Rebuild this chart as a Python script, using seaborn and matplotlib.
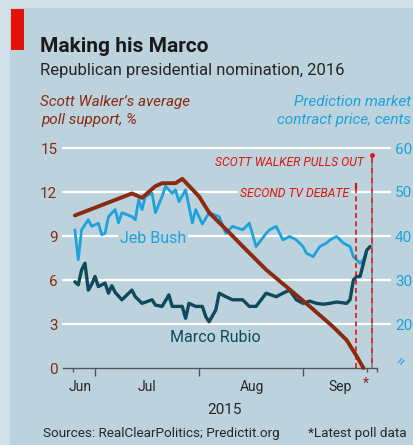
import pandas as pd
import matplotlib.pyplot as plt
import matplotlib.dates as mdates
from matplotlib.patches import Rectangle
import seaborn as sns

W, H = 413, 445

# Scott Walker, average poll support (%)
walker_dates = ["2015-06-25", "2015-07-12", "2015-07-15", "2015-07-19", "2015-07-21",
                "2015-07-25", "2015-07-27", "2015-08-01", "2015-08-04", "2015-08-11",
                "2015-08-14", "2015-08-21", "2015-08-27", "2015-09-03", "2015-09-10",
                "2015-09-14", "2015-09-17", "2015-09-19"]
walker_poll = [10.4, 11.9, 11.6, 12.4, 12.6, 12.6, 12.9, 11.7, 10.6, 9.0,
               8.3, 6.7, 5.55, 4.2, 2.8, 1.9, 0.8, 0.0]

# Prediction market contract price (cents)
bush_dates = ["2015-06-25", "2015-06-26", "2015-06-27", "2015-06-29", "2015-06-30",
              "2015-07-02", "2015-07-03", "2015-07-04", "2015-07-05", "2015-07-07",
              "2015-07-08", "2015-07-09", "2015-07-12", "2015-07-13", "2015-07-14",
              "2015-07-15", "2015-07-16", "2015-07-18", "2015-07-19", "2015-07-21",
              "2015-07-22", "2015-07-24", "2015-07-25", "2015-07-26", "2015-07-28",
              "2015-07-30", "2015-07-31", "2015-08-02", "2015-08-04", "2015-08-07",
              "2015-08-09", "2015-08-11", "2015-08-14", "2015-08-16", "2015-08-18",
              "2015-08-21", "2015-08-22", "2015-08-24", "2015-08-26", "2015-08-28",
              "2015-08-30", "2015-09-01", "2015-09-02", "2015-09-04", "2015-09-06",
              "2015-09-08", "2015-09-09", "2015-09-11", "2015-09-13", "2015-09-15",
              "2015-09-16", "2015-09-18", "2015-09-19", "2015-09-20", "2015-09-21"]
bush_price = [41.4, 34.6, 41.4, 43.7, 42.2, 42.9, 40.3, 40.6, 44.4, 46.0,
              43.0, 45.3, 44.4, 43.7, 48.2, 46.0, 49.0, 49.7, 45.3, 49.0,
              51.3, 49.7, 50.5, 47.8, 50.5, 43.0, 46.0, 42.7, 45.3, 44.4,
              40.6, 42.2, 41.4, 42.9, 37.6, 40.6, 41.4, 42.2, 39.1, 39.9,
              39.1, 37.6, 36.1, 35.3, 37.6, 38.4, 39.1, 39.9, 38.4, 37.6,
              35.3, 33.8, 34.6, 36.8, 37.6]

rubio_dates = ["2015-06-25", "2015-06-26", "2015-06-27", "2015-06-28", "2015-06-29",
               "2015-06-30", "2015-07-01", "2015-07-02", "2015-07-04", "2015-07-05",
               "2015-07-06", "2015-07-07", "2015-07-09", "2015-07-12", "2015-07-13",
               "2015-07-15", "2015-07-18", "2015-07-19", "2015-07-21", "2015-07-23",
               "2015-07-24", "2015-07-27", "2015-07-28", "2015-07-29", "2015-07-31",
               "2015-08-02", "2015-08-03", "2015-08-04", "2015-08-06", "2015-08-07",
               "2015-08-09", "2015-08-11", "2015-08-14", "2015-08-16", "2015-08-18",
               "2015-08-21", "2015-08-24", "2015-08-26", "2015-08-28", "2015-08-30",
               "2015-09-01", "2015-09-03", "2015-09-05", "2015-09-07", "2015-09-09",
               "2015-09-11", "2015-09-14", "2015-09-15", "2015-09-16", "2015-09-17",
               "2015-09-18", "2015-09-19", "2015-09-20", "2015-09-21"]
rubio_price = [29.6, 28.9, 32.3, 33.8, 27.7, 29.0, 30.8, 28.5, 29.3, 27.0,
               28.7, 27.2, 25.5, 27.7, 26.2, 24.7, 25.5, 24.3, 24.0, 26.6,
               24.0, 24.0, 21.3, 24.7, 24.0, 24.0, 21.7, 20.5, 23.2, 27.0,
               26.2, 25.5, 25.5, 24.0, 24.0, 27.0, 26.2, 27.0, 27.7, 25.5,
               24.7, 25.2, 24.7, 24.5, 24.7, 25.0, 24.7, 25.5, 30.0, 30.8,
               30.8, 33.8, 36.8, 37.6]

left_ticks = [0, 3, 6, 9, 12, 15]
right_ticks = [20, 30, 40, 50, 60]
month_names = ["Jun", "Jul", "Aug", "Sep"]
month_label_dates = ["2015-06-26 12:00", "2015-07-16 12:00", "2015-08-16 20:00", "2015-09-12 00:00"]
month_starts = ["2015-07-01", "2015-08-01", "2015-09-01"]
small_ticks = ["2015-06-24 12:00", "2015-09-20 00:00", "2015-09-23 00:00"]
debate_date = "2015-09-16 16:00"
pullout_date = "2015-09-21 16:00"
latest_poll_date = "2015-09-19 16:00"

BG = "#bcd2dd"
FRAME = "#d2e1e8"
WALKER = "#8a2a10"
BUSH = "#1ea2dc"
RUBIO = "#0e4a5b"
RED = "#e3120b"
INK = "#262626"


def fx(x):
    return x / W


def fy(y):
    return 1 - y / H


def dnum(d):
    return mdates.date2num(pd.Timestamp(d))


sns.set_theme(style="white")
plt.rcParams["font.family"] = ["Roboto", "DejaVu Sans"]

walker = pd.DataFrame({"date": pd.to_datetime(walker_dates), "poll": walker_poll})
bush = pd.DataFrame({"date": pd.to_datetime(bush_dates), "price": bush_price})
rubio = pd.DataFrame({"date": pd.to_datetime(rubio_dates), "price": rubio_price})

fig = plt.figure(figsize=(W / 100, H / 100), dpi=100)
fig.patch.set_facecolor(FRAME)
fig.add_artist(Rectangle((fx(10), 0), 1, fy(8), transform=fig.transFigure,
                         color=BG, zorder=-10))
fig.add_artist(Rectangle((fx(11), fy(50)), fx(13), 41 / H, transform=fig.transFigure,
                         color=RED, lw=0))

# market prices on the primary axes (right scale), Walker on the twin (left scale, on top)
ax = fig.add_axes([fx(63), fy(368), 314 / W, 220 / H])
ax.set_facecolor("none")
ax2 = ax.twinx()
ax.yaxis.tick_right()
ax2.yaxis.tick_left()

for v in right_ticks:
    ax.axhline(v, xmin=0, xmax=(390 - 63) / 314, color="white", lw=1.6,
               clip_on=False, zorder=0)

sns.lineplot(data=bush, x="date", y="price", ax=ax, color=BUSH, lw=2.0)
sns.lineplot(data=rubio, x="date", y="price", ax=ax, color=RUBIO, lw=2.4)
sns.lineplot(data=walker, x="date", y="poll", ax=ax2, color=WALKER, lw=2.8)
for line in ax.lines + ax2.lines:
    line.set_clip_on(False)

ax.set_xlim(dnum("2015-06-21 11:00"), dnum("2015-09-23 01:00"))
ax.set_ylim(10, 60)
ax2.set_ylim(0, 15)
ax.set_xlabel("")
ax.set_ylabel("")
ax2.set_xlabel("")
ax2.set_ylabel("")

for a in (ax, ax2):
    for s in ("top", "left", "right", "bottom"):
        a.spines[s].set_visible(False)
ax.spines["bottom"].set_visible(True)
ax.spines["bottom"].set_color("#555555")
ax.spines["bottom"].set_linewidth(1.0)

ax.set_xticks([dnum(d) for d in month_starts])
ax.set_xticks([dnum(d) for d in small_ticks], minor=True)
ax.set_xticklabels([])
ax.set_xticklabels([], minor=True)
ax.tick_params(axis="x", which="major", length=6, width=1, color="#555555", bottom=True)
ax.tick_params(axis="x", which="minor", length=3, width=1, color="#555555", bottom=True)

ax.set_yticks(right_ticks)
ax.set_yticklabels([str(v) for v in right_ticks])
ax.tick_params(axis="y", length=0, pad=13, labelsize=11, labelcolor=BUSH)
ax2.set_yticks(left_ticks)
ax2.set_yticklabels([str(v) for v in left_ticks])
ax2.tick_params(axis="y", length=0, pad=4, labelsize=11, labelcolor=WALKER)

for d, name in zip(month_label_dates, month_names):
    ax.text(dnum(d), -23 / 220, name, transform=ax.get_xaxis_transform(),
            ha="center", va="baseline", fontsize=10, color=INK)
ax.text(dnum(latest_poll_date), -16 / 220, "*", transform=ax.get_xaxis_transform(),
        ha="center", va="center", fontsize=10, color=WALKER)

# event lines
ax2.axvline(dnum(debate_date), ymin=0, ymax=12.4 / 15, color=RED, lw=1.2,
            ls=(0, (3, 2)), zorder=1)
ax2.plot([dnum(debate_date)] * 2, [12.2, 12.6], color=RED, lw=1.6, solid_capstyle="butt")
ax2.axvline(dnum(pullout_date), ymin=0, ymax=14.4 / 15, color="#7a7f85", lw=1.2,
            ls=(0, (3, 3)), zorder=1)
ax2.axvline(dnum(pullout_date), ymin=0, ymax=14.4 / 15, color=RED, lw=1.2,
            ls=(3, (3, 3)), zorder=1)
ax2.plot([dnum(pullout_date)], [14.5], marker="o", ms=2.5, color=RED, clip_on=False)

# text
fig.text(fx(40), fy(52), "Making his Marco", fontsize=15, weight="bold",
         color="#1a1a1a", va="baseline")
fig.text(fx(40), fy(75), "Republican presidential nomination, 2016", fontsize=12,
         color=INK, va="baseline")
fig.text(fx(40), fy(106), "Scott Walker\u2019s average", fontsize=11, style="italic",
         color=WALKER, va="baseline")
fig.text(fx(41), fy(124), "poll support, %", fontsize=11, style="italic",
         color=WALKER, va="baseline")
fig.text(fx(411), fy(106), "Prediction market", fontsize=11, style="italic",
         color=BUSH, va="baseline", ha="right")
fig.text(fx(411), fy(124), "contract price, cents", fontsize=11, style="italic",
         color=BUSH, va="baseline", ha="right")

fig.text(fx(153), fy(243), "Jeb Bush", fontsize=11.5, color=BUSH, ha="center",
         va="baseline", bbox=dict(facecolor=BG, edgecolor="none", pad=1.5))
fig.text(fx(170), fy(342), "Marco Rubio", fontsize=11.5, color=RUBIO, va="baseline")

fig.text(fx(364), fy(166), "SCOTT WALKER PULLS OUT", fontsize=8.7, style="italic",
         color=RED, ha="right", va="baseline")
fig.text(fx(349), fy(197), "SECOND TV DEBATE", fontsize=8.7, style="italic",
         color=RED, ha="right", va="baseline",
         bbox=dict(facecolor=BG, edgecolor="none", pad=1.5))

fig.text(fx(402), fy(362), "\u2248", fontsize=10, color=BUSH, ha="center",
         va="center", rotation=60)

fig.text(fx(225), fy(414), "2015", fontsize=11, color=INK, ha="center", va="baseline")
fig.text(fx(43), fy(437), "Sources: RealClearPolitics; Predictit.org", fontsize=9.7,
         color=INK, va="baseline")
fig.text(fx(407), fy(437), "*Latest poll data", fontsize=9.7, color=INK,
         ha="right", va="baseline")

fig.savefig("out.png", dpi=100, facecolor=fig.get_facecolor())
